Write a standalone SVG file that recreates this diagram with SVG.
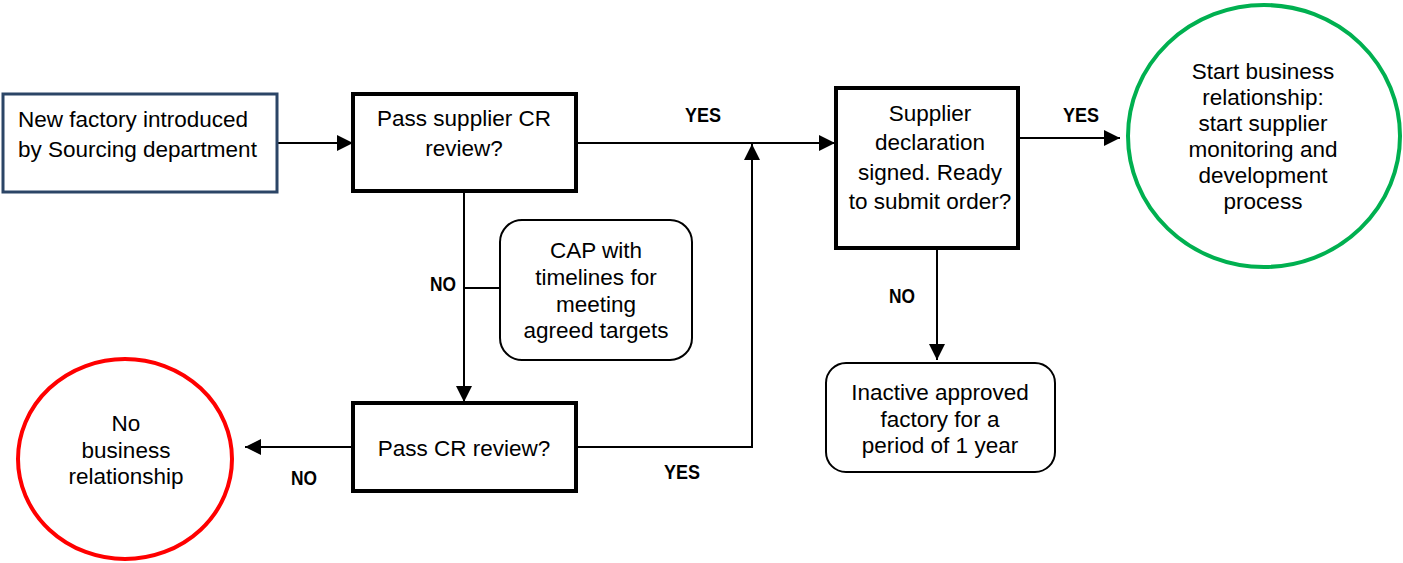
<svg xmlns="http://www.w3.org/2000/svg" width="1403" height="563" viewBox="0 0 1403 563">
<defs>
<style>
.t{font-family:"Liberation Sans",Arial,sans-serif;font-size:22.5px;fill:#000;}
.c{text-anchor:middle;}
.lbl{font-family:"Liberation Sans",Arial,sans-serif;font-size:20px;font-weight:bold;fill:#000;text-anchor:middle;}
.dec{fill:#fff;stroke:#000;stroke-width:4;}
.rnd{fill:#fff;stroke:#000;stroke-width:2;}
.ln{fill:none;stroke:#000;stroke-width:2;}
</style>
<marker id="ahb" viewBox="0 0 10 10" refX="10" refY="5" markerWidth="18" markerHeight="16" markerUnits="userSpaceOnUse" orient="auto"><path d="M0,0 L10,5 L0,10 z" fill="#000"/></marker>
</defs>
<g id="connectors">
<line class="ln" x1="277" y1="143" x2="353" y2="143" marker-end="url(#ahb)"/>
<line class="ln" x1="576" y1="143" x2="835" y2="143" marker-end="url(#ahb)"/>
<polyline class="ln" points="576,447 752,447 752,144" marker-end="url(#ahb)"/>
<line class="ln" x1="464" y1="192" x2="464" y2="402" marker-end="url(#ahb)"/>
<line class="ln" x1="464" y1="288" x2="500" y2="288"/>
<line class="ln" x1="353" y1="447" x2="245" y2="447" marker-end="url(#ahb)"/>
<line class="ln" x1="937" y1="248" x2="937" y2="360" marker-end="url(#ahb)"/>
<line class="ln" x1="1018" y1="138" x2="1120" y2="138" marker-end="url(#ahb)"/>
<text class="lbl" x="703" y="122" textLength="36" lengthAdjust="spacingAndGlyphs">YES</text>
<text class="lbl" x="1081" y="122" textLength="36" lengthAdjust="spacingAndGlyphs">YES</text>
<text class="lbl" x="443" y="291" textLength="26" lengthAdjust="spacingAndGlyphs">NO</text>
<text class="lbl" x="902" y="303" textLength="26" lengthAdjust="spacingAndGlyphs">NO</text>
<text class="lbl" x="304" y="485" textLength="26" lengthAdjust="spacingAndGlyphs">NO</text>
<text class="lbl" x="682" y="479" textLength="36" lengthAdjust="spacingAndGlyphs">YES</text>
</g>
<g id="n-new">
<rect x="3" y="94" width="274" height="98" fill="#fff" stroke="#2B4566" stroke-width="3"/>
<text class="t" x="18" y="127">New factory introduced</text>
<text class="t" x="18" y="157">by Sourcing department</text>
</g>
<g id="n-pass-supplier">
<rect class="dec" x="353" y="94" width="223" height="97"/>
<text class="t c" x="464" y="126">Pass supplier CR</text>
<text class="t c" x="464" y="156">review?</text>
</g>
<g id="n-cap">
<rect class="rnd" x="500" y="220" width="192" height="140" rx="22"/>
<text class="t c" x="596" y="258">CAP with</text>
<text class="t c" x="596" y="285">timelines for</text>
<text class="t c" x="596" y="312">meeting</text>
<text class="t c" x="596" y="338">agreed targets</text>
</g>
<g id="n-pass-cr">
<rect class="dec" x="353" y="403" width="223" height="88"/>
<text class="t c" x="464" y="456">Pass CR review?</text>
</g>
<g id="n-no-business">
<ellipse cx="125" cy="459" rx="107" ry="100" fill="#fff" stroke="#FF0000" stroke-width="4"/>
<text class="t c" x="126" y="431">No</text>
<text class="t c" x="126" y="458">business</text>
<text class="t c" x="126" y="484">relationship</text>
</g>
<g id="n-supplier-decl">
<rect class="dec" x="836" y="88" width="182" height="160"/>
<text class="t c" x="930" y="121">Supplier</text>
<text class="t c" x="930" y="150">declaration</text>
<text class="t c" x="930" y="180">signed. Ready</text>
<text class="t c" x="930" y="209">to submit order?</text>
</g>
<g id="n-start">
<ellipse cx="1264" cy="136" rx="136" ry="131" fill="#fff" stroke="#00B050" stroke-width="4"/>
<text class="t c" x="1263" y="79">Start business</text>
<text class="t c" x="1263" y="105">relationship:</text>
<text class="t c" x="1263" y="131">start supplier</text>
<text class="t c" x="1263" y="157">monitoring and</text>
<text class="t c" x="1263" y="183">development</text>
<text class="t c" x="1263" y="209">process</text>
</g>
<g id="n-inactive">
<rect class="rnd" x="826" y="363" width="229" height="109" rx="20"/>
<text class="t c" x="940" y="400">Inactive approved</text>
<text class="t c" x="940" y="427">factory for a</text>
<text class="t c" x="940" y="453">period of 1 year</text>
</g>
</svg>
